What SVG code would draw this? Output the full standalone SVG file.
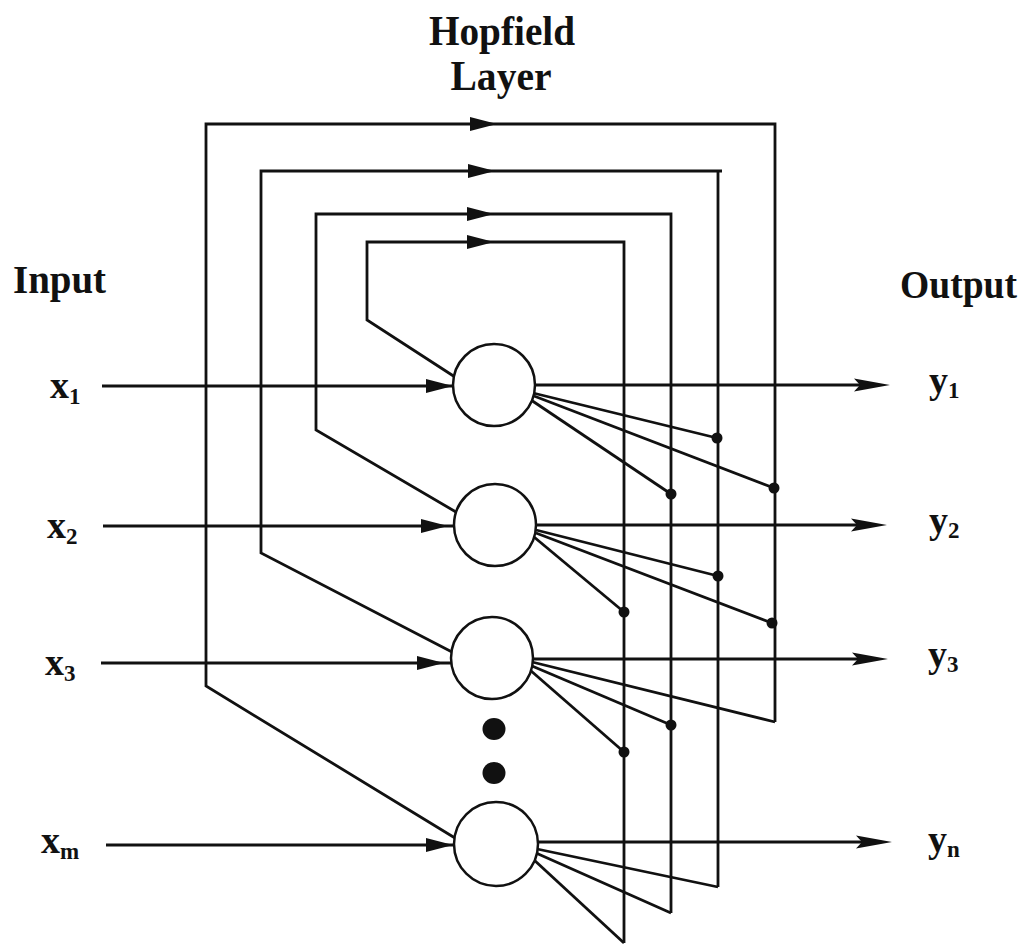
<svg xmlns="http://www.w3.org/2000/svg" xmlns:xlink="http://www.w3.org/1999/xlink" width="1024" height="947" viewBox="0 0 1024 947">
  <style>
    .title { font-family: "Liberation Serif", "Times New Roman", serif; font-weight: bold; font-size: 42px; fill: #111; text-anchor: middle; }
    .side { font-family: "Liberation Serif", "Times New Roman", serif; font-weight: bold; font-size: 40px; fill: #111; }
    .lab { font-family: "Liberation Serif", "Times New Roman", serif; font-weight: bold; font-size: 38px; fill: #111; }
    .sub { font-size: 23px; }
    .wire { fill: none; stroke: #111; stroke-width: 2.8; stroke-linejoin: miter; stroke-linecap: butt; }
    .neuron { fill: #fff; stroke: #111; stroke-width: 2.5; }
    .joint { fill: #111; }
    .bigdot { fill: #111; }
    .head { fill: #111; }
  </style>
  <defs>
    <!-- arrowhead on feedback loops and inputs, tip at the origin -->
    <path id="ah" d="M0,0 L-27,-7 L-27,7 Z"/>
    <!-- narrower dart used on the outputs -->
    <path id="ahOut" d="M0,0 L-36,-6.5 L-30,0 L-36,6.5 Z"/>
  </defs>

  <rect width="1024" height="947" fill="#fff"/>

  <!-- headings -->
  <g id="heading">
    <text class="title" x="502" y="45" textLength="146" lengthAdjust="spacingAndGlyphs">Hopfield</text>
    <text class="title" x="501" y="90" textLength="101" lengthAdjust="spacingAndGlyphs">Layer</text>
  </g>
  <text id="input-heading" class="side" x="13" y="293" textLength="93" lengthAdjust="spacingAndGlyphs">Input</text>
  <text id="output-heading" class="side" x="900" y="298" textLength="117" lengthAdjust="spacingAndGlyphs">Output</text>

  <!-- connectors -->
  <g id="connectors">
    <!-- feedback loops: right column up, across the top, down the left, into a neuron -->
    <path class="wire" d="M775,722 L775,124 L206,124 L206,686 L455,838"/>
    <path class="wire" d="M718,887 L718,171 L722,171 M718,171 L261,171 L261,553 L452,652"/>
    <path class="wire" d="M671,913 L671,214 L316,214 L316,430 L456,512"/>
    <path class="wire" d="M624,943 L624,242 L367,242 L367,320 L455,377"/>

    <!-- inputs -->
    <path class="wire" d="M102,386 L453,386"/>
    <path class="wire" d="M103,526 L454,526"/>
    <path class="wire" d="M101,663 L451,663"/>
    <path class="wire" d="M106,845 L455,845"/>

    <!-- outputs -->
    <path class="wire" d="M535,385 L862,385"/>
    <path class="wire" d="M536,525 L859,525"/>
    <path class="wire" d="M533,659 L860,659"/>
    <path class="wire" d="M538,842 L864,842"/>

    <!-- fan-out from neuron 1 -->
    <path class="wire" d="M533,393 L717,438"/>
    <path class="wire" d="M534,396 L774,488"/>
    <path class="wire" d="M531,400 L671,494"/>
    <!-- fan-out from neuron 2 -->
    <path class="wire" d="M536,530 L718,576"/>
    <path class="wire" d="M536,533 L772,623"/>
    <path class="wire" d="M534,537 L624,612"/>
    <!-- fan-out from neuron 3 -->
    <path class="wire" d="M532,662 L775,722"/>
    <path class="wire" d="M532,666 L671,725"/>
    <path class="wire" d="M530,670 L624,752"/>
    <!-- fan-out from neuron m -->
    <path class="wire" d="M537,849 L718,887"/>
    <path class="wire" d="M536,853 L671,913"/>
    <path class="wire" d="M533,859 L624,943"/>

    <!-- arrowheads on the loops -->
    <use class="head" xlink:href="#ah" href="#ah" x="497" y="124"/>
    <use class="head" xlink:href="#ah" href="#ah" x="495" y="171"/>
    <use class="head" xlink:href="#ah" href="#ah" x="494" y="214"/>
    <use class="head" xlink:href="#ah" href="#ah" x="494" y="242"/>
    <!-- arrowheads on the inputs -->
    <use class="head" xlink:href="#ah" href="#ah" x="453" y="386"/>
    <use class="head" xlink:href="#ah" href="#ah" x="448" y="526"/>
    <use class="head" xlink:href="#ah" href="#ah" x="444" y="663"/>
    <use class="head" xlink:href="#ah" href="#ah" x="453" y="845"/>
    <!-- arrowheads on the outputs -->
    <use class="head" xlink:href="#ahOut" href="#ahOut" x="890" y="385"/>
    <use class="head" xlink:href="#ahOut" href="#ahOut" x="887" y="525"/>
    <use class="head" xlink:href="#ahOut" href="#ahOut" x="888" y="659"/>
    <use class="head" xlink:href="#ahOut" href="#ahOut" x="892" y="842"/>

    <!-- junction dots -->
    <circle class="joint" cx="717" cy="438" r="5.5"/>
    <circle class="joint" cx="774" cy="488" r="5.5"/>
    <circle class="joint" cx="671" cy="494" r="5.5"/>
    <circle class="joint" cx="718" cy="576" r="5.5"/>
    <circle class="joint" cx="772" cy="623" r="5.5"/>
    <circle class="joint" cx="624" cy="612" r="5.5"/>
    <circle class="joint" cx="671" cy="725" r="5.5"/>
    <circle class="joint" cx="624" cy="752" r="5.5"/>
  </g>

  <!-- neurons -->
  <g id="neuron-1"><circle class="neuron" cx="494" cy="385" r="41"/></g>
  <g id="neuron-2"><circle class="neuron" cx="495" cy="525" r="41"/></g>
  <g id="neuron-3"><circle class="neuron" cx="492" cy="658" r="41"/></g>
  <g id="neuron-m"><circle class="neuron" cx="496" cy="844" r="42"/></g>

  <!-- ellipsis between neuron 3 and neuron m -->
  <g id="ellipsis">
    <ellipse class="bigdot" cx="494" cy="729" rx="11.5" ry="11"/>
    <ellipse class="bigdot" cx="494" cy="773" rx="11.5" ry="11"/>
  </g>

  <!-- input labels -->
  <g id="input-labels">
    <text class="lab" x="50" y="398">x<tspan class="sub" dy="6">1</tspan></text>
    <text class="lab" x="47" y="538">x<tspan class="sub" dy="6">2</tspan></text>
    <text class="lab" x="45" y="675">x<tspan class="sub" dy="6">3</tspan></text>
    <text class="lab" x="41" y="853">x<tspan class="sub" dy="6">m</tspan></text>
  </g>

  <!-- output labels -->
  <g id="output-labels">
    <text class="lab" x="929" y="393">y<tspan class="sub" dy="5">1</tspan></text>
    <text class="lab" x="929" y="533">y<tspan class="sub" dy="5">2</tspan></text>
    <text class="lab" x="928" y="667">y<tspan class="sub" dy="5">3</tspan></text>
    <text class="lab" x="928" y="852">y<tspan class="sub" dy="5">n</tspan></text>
  </g>
</svg>
